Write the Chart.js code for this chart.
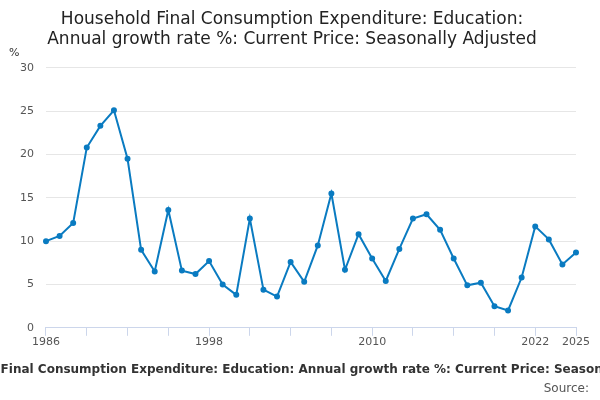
<!DOCTYPE html>
<html>
<head>
<meta charset="utf-8">
<script src="https://cdn.jsdelivr.net/npm/chart.js@4"></script>
<style>
  body { margin: 0; background: #fff; }
  #wrap { width: 600px; height: 400px; }
</style>
</head>
<body>
<div id="wrap"><canvas id="myChart"></canvas></div>
<script>
const years = [];
for (let y = 1986; y <= 2025; y++) years.push(String(y));

const growth = [10.0, 10.6, 12.1, 20.8, 23.3, 25.1, 19.5, 9.0, 6.5, 13.6,
    6.6, 6.2, 7.7, 5.0, 3.8, 12.6, 4.4, 3.6, 7.6, 5.3,
    9.5, 15.5, 6.7, 10.8, 8.0, 5.4, 9.1, 12.6, 13.1, 11.3,
    8.0, 4.9, 5.2, 2.5, 2.0, 5.8, 11.7, 10.2, 7.3, 8.7];

const yTicks = [0, 5, 10, 15, 20, 25, 30];

Chart.defaults.font.family = 'DejaVu Sans';
Chart.defaults.color = '#555';

// "%" unit label and source line / clipped axis title
const extras = {
    id: 'extras',
    afterDraw(chart) {
        const c = chart.ctx;
        c.save();
        c.fillStyle = '#333';
        c.font = '11px DejaVu Sans';
        c.textAlign = 'left';
        c.fillText('%', 9, 56);
        c.font = 'bold 12px DejaVu Sans';
        c.textAlign = 'center';
        c.fillText('Household Final Consumption Expenditure: Education: Annual growth rate %: Current Price: Seasonally Adjusted', 308, 373);
        c.font = '12px DejaVu Sans';
        c.fillStyle = '#555';
        c.textAlign = 'right';
        c.fillText('Source:', 589, 392);
        c.restore();
    }
};

const ctx = document.getElementById('myChart').getContext('2d');
const myChart = new Chart(ctx, {
    type: 'line',
    data: {
        labels: years,
        datasets: [{
            data: growth,
            borderColor: '#0a7bc1',
            backgroundColor: '#0a7bc1',
            borderWidth: 2,
            pointRadius: 2,
            tension: 0
        }]
    },
    options: {
        responsive: true,
        maintainAspectRatio: false,
        animation: false,
        layout: { padding: { left: 8, right: 24, top: 0, bottom: 51 } },
        plugins: {
            legend: { display: false },
            tooltip: { enabled: false },
            title: {
                display: true,
                text: ['Household Final Consumption Expenditure: Education:', 'Annual growth rate %: Current Price: Seasonally Adjusted'],
                color: '#222',
                font: { size: 17, weight: 'normal' },
                padding: { top: 9, bottom: 18 }
            }
        },
        scales: {
            x: {
                offset: false,
                grid: { drawOnChartArea: false, tickLength: 8, color: '#ccd6eb' },
                border: { color: '#ccd6eb' },
                ticks: {
                    autoSkip: false,
                    maxRotation: 0,
                    font: { size: 11 },
                    padding: 0,
                    callback: function (v, i) {
                        if (i % 3 !== 0) return null;
                        if (i % 12 === 0 || i === years.length - 1) return years[i];
                        return '';
                    }
                }
            },
            y: {
                min: 0,
                max: 30,
                afterBuildTicks: (axis) => { axis.ticks = yTicks.map(v => ({ value: v })); },
                grid: { color: '#e6e6e6', drawTicks: false },
                border: { display: false },
                ticks: { font: { size: 11 }, padding: 12 }
            }
        }
    },
    plugins: [extras]
});
</script>
</body>
</html>
